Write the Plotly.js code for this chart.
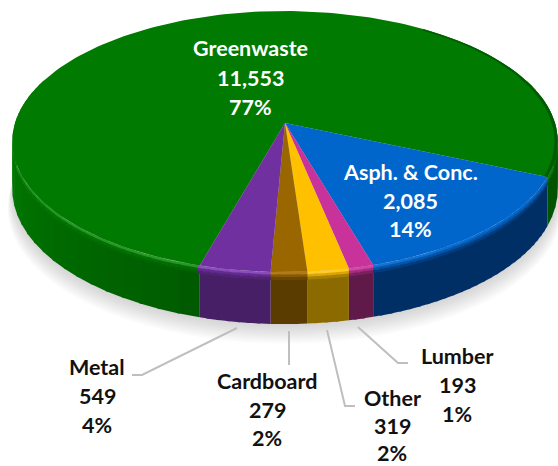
<!DOCTYPE html>
<html><head><meta charset="utf-8">
<script src="https://cdn.plot.ly/plotly-3.0.1.min.js"></script>
<style>html,body{margin:0;padding:0;background:#fff}#c{width:558px;height:466px}</style>
</head><body><div id="c"></div>
<script>
const categories = ['Greenwaste','Asph. & Conc.','Lumber','Other','Cardboard','Metal'];
const values = [11553,2085,193,319,279,549];
const topColors = ['#007A00','#0066CC','#C8329A','#FFC000','#9A6600','#7030A0'];
const wallColors = ['#006400','#002F66','#601A4A','#8B6A00','#5A3C00','#461F66'];
const lightColors = ['#2F9F2F','#2F86DD','#D85FB4','#FFD24D','#B8862A','#9356C4'];
const textColors = ['#fff','#fff','#111','#111','#111','#111'];
const labelCenters = [[250,48,29.5],[410,172,28.5],[457,356,29],[392,398,27.5],[267,381,28.5],[97,367,29]];
const leaders = [null,null,[[358,327],[398,363],[408,363]],[[327,330],[345,406],[355,406]],[[289,331],[289,365]],[[237,328],[142,375],[132,375]]];

const view = {cx:285, cy:123, A:270, B:127.9, k:0.142, startBlue:-23.5};
const total = values.reduce((a,b)=>a+b,0);
const rad = d=>d*Math.PI/180;
function pt(t,r=1){const s=Math.sin(rad(t))*r,c=Math.cos(rad(t))*r,w=1+view.k*s;return [view.cx+view.A*c/w, view.cy-view.B*s/w];}
const drop = t=>47-5*Math.sin(rad(t));
function hex(c){return [1,3,5].map(i=>parseInt(c.substr(i,2),16));}
function mix(a,b,f){const x=hex(a),y=hex(b);return '#'+x.map((v,i)=>Math.round(v+(y[i]-v)*f).toString(16).padStart(2,'0')).join('');}
function range(a,b,step=1){const o=[];const n=Math.max(1,Math.ceil(Math.abs(b-a)/step));for(let i=0;i<=n;i++)o.push(a+(b-a)*i/n);return o;}
function poly(pts,fill,width=0,line){return {type:'scatter',mode:'lines',x:pts.map(p=>p[0]),y:pts.map(p=>p[1]),fill:'toself',fillcolor:fill,line:{width:width,color:line||fill},hoverinfo:'skip',showlegend:false};}

let spans=[]; let a=view.startBlue;
for(let i=1;i<values.length;i++){const e=a-values[i]/total*360;spans[i]=[a,e];a=e;}
spans[0]=[a,view.startBlue-360];

const traces=[];
for(let k=0;k<9;k++){
  const pts=range(-180,180,4).map(t=>{const p=pt(t);return [view.cx+(p[0]-view.cx)*(1+k*0.002), p[1]+drop(t)+1+k*2.3];});
  traces.push(poly(pts,'rgba(110,110,110,0.035)'));
}
function shade(i,t){
  if(i!==0) return wallColors[i];
  if(t>-105) return '#005400';
  const f=Math.min(1,Math.max(0,(-105-t)/70));
  return mix('#005A00','#007A00',f);
}
for(let i=0;i<values.length;i++){
  const [s,e]=spans[i];
  const ranges = i===0 ? [[spans[5][1],-200],[20,view.startBlue]] : [[s,e]];
  ranges.forEach(([u,v])=>{
    const ts=range(u,v,i===0?4:2);
    for(let j=0;j<ts.length-1;j++){
      const t0=ts[j],t1=ts[j+1];
      const ov=j<ts.length-2?-0.6:0;
      const c=shade(i,(t0+t1)/2);
      const a0=pt(t0),a1=pt(t1+ov);
      traces.push(poly([[a0[0],a0[1]+6],[a1[0],a1[1]+6],[a1[0],a1[1]+drop(t1+ov)],[a0[0],a0[1]+drop(t0)]],c));
    }
    const up=range(u,v,2);
    const bands=[[0,2.5,0],[2.5,5,0.3],[5,7.5,0.75]];
    bands.forEach(([o0,o1,f])=>{
      for(let j=0;j<up.length-1;j++){
        const t0=up[j],t1=up[j+1],m=(t0+t1)/2;
        const hl=Math.max(0,Math.min(1,(-m-40)/60))*Math.max(0,Math.min(1,(m+200)/60));
        const base=o0===0?mix(topColors[i],lightColors[i],hl*0.8):topColors[i];
        const c=mix(base,shade(i,m),f);
        const p0=pt(t0),p1=pt(t1-0.4);
        traces.push(poly([[p0[0],p0[1]+o0],[p1[0],p1[1]+o0],[p1[0],p1[1]+o1+0.5],[p0[0],p0[1]+o1+0.5]],c));
      }
    });
  });
}
for(let i=0;i<values.length;i++){
  const [s,e]=spans[i];
  const arc=range(s,e,1.5).map(t=>pt(t));
  traces.push(poly([[view.cx,view.cy],...arc,[view.cx,view.cy]],topColors[i]));
}
const ro=range(view.startBlue,55,2);
traces.push(poly([...ro.map(t=>pt(t,1)),...ro.slice().reverse().map(t=>pt(t,0.988))],'#005A00'));
leaders.forEach(l=>{ if(l) traces.push({type:'scatter',mode:'lines',x:l.map(p=>p[0]),y:l.map(p=>p[1]),line:{color:'#BFBFBF',width:2},hoverinfo:'skip',showlegend:false}); });

const fmt=n=>n.toLocaleString('en-US');
const annotations=[];
categories.forEach((c,i)=>{
  const [x,y,g]=labelCenters[i];
  [c,fmt(values[i]),Math.round(values[i]/total*100)+'%'].forEach((txt,j)=>{
    annotations.push({x:x,y:y+g*j,xref:'x',yref:'y',text:'<b>'+txt+'</b>',showarrow:false,xanchor:'center',yanchor:'middle',
      font:{family:'Lato, "Open Sans", sans-serif',size:21.5,color:textColors[i]}});
  });
});
const ax={visible:false,fixedrange:true};
Plotly.newPlot('c',traces,{
  width:558,height:466,margin:{l:0,r:0,t:0,b:0},paper_bgcolor:'#fff',plot_bgcolor:'#fff',showlegend:false,hovermode:false,
  xaxis:{...ax,range:[0,558]},yaxis:{...ax,range:[466,0]},annotations
},{displayModeBar:false,staticPlot:true});
</script></body></html>
